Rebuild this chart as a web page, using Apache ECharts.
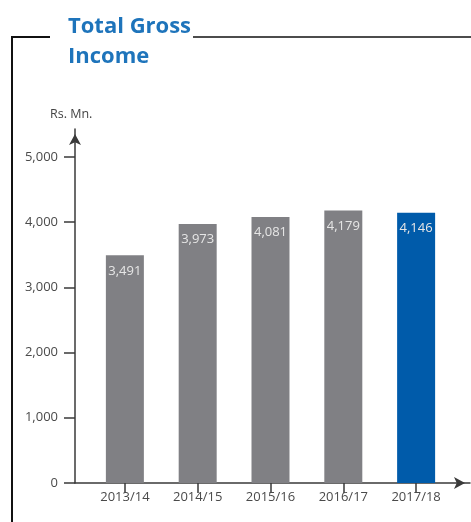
<!DOCTYPE html>
<html>
<head>
<meta charset="utf-8">
<script src="https://cdn.jsdelivr.net/npm/echarts@6/dist/echarts.min.js"></script>
<style>
  html, body { margin: 0; padding: 0; background: #fff; }
  #chart { width: 471px; height: 522px; }
</style>
</head>
<body>
<div id="chart"></div>
<script>
// Financial years and total gross income (Rs. Mn.)
const years = ['2013/14', '2014/15', '2015/16', '2016/17', '2017/18'];
const income = [3491, 3973, 4081, 4179, 4146];
const yTicks = [0, 1000, 2000, 3000, 4000, 5000];
const barColors = ['#808084', '#808084', '#808084', '#808084', '#005baa'];

const FONT = '"Open Sans", "Noto Sans", sans-serif';
const chart = echarts.init(document.getElementById('chart'), null, { renderer: 'canvas' });

const fmt = v => v.toLocaleString('en-US');
const xIdx = years.map((_, i) => i);

chart.setOption({
  animation: false,
  textStyle: { fontFamily: FONT },
  grid: { left: 75, right: 1, top: 129, bottom: 39 },
  xAxis: {
    type: 'value',
    min: -0.685,
    max: 4.74,
    splitLine: { show: false },
    axisLine: {
      show: true,
      onZero: false,
      lineStyle: { color: '#3a3a3a', width: 1.5 },
      symbol: ['none', 'arrow'],
      symbolSize: [9, 11],
      symbolOffset: [0, -5]
    },
    axisTick: {
      show: true,
      length: 10,
      customValues: xIdx,
      lineStyle: { color: '#3a3a3a', width: 1.5 }
    },
    axisLabel: {
      customValues: xIdx,
      formatter: v => years[Math.round(v)] || '',
      color: '#4a4a4a',
      fontSize: 13,
      margin: 8,
      fontFamily: FONT
    }
  },
  yAxis: {
    type: 'value',
    min: 0,
    max: 5429,
    splitLine: { show: false },
    axisLine: {
      show: true,
      onZero: false,
      lineStyle: { color: '#3a3a3a', width: 1.5 },
      symbol: ['none', 'arrow'],
      symbolSize: [9, 11],
      symbolOffset: [0, -5]
    },
    axisTick: {
      show: true,
      length: 11,
      customValues: yTicks,
      lineStyle: { color: '#3a3a3a', width: 1.5 }
    },
    axisLabel: {
      customValues: yTicks,
      formatter: v => fmt(v),
      color: '#4a4a4a',
      fontSize: 13,
      margin: 17,
      fontFamily: FONT
    }
  },
  series: [{
    type: 'bar',
    barWidth: 38,
    data: income.map((v, i) => ({
      value: [i, v],
      itemStyle: { color: barColors[i] }
    })),
    label: {
      show: true,
      position: 'insideTop',
      distance: 9,
      color: '#e6e6e6',
      fontSize: 13,
      fontFamily: FONT,
      formatter: p => fmt(p.value[1])
    }
  }],
  graphic: [
    // outline frame around the panel
    { type: 'polyline', shape: { points: [[50, 37], [12, 37], [12, 522]] },
      style: { stroke: '#111', lineWidth: 2, fill: null } },
    { type: 'line', shape: { x1: 193, y1: 37, x2: 471, y2: 37 },
      style: { stroke: '#111', lineWidth: 1.5 } },
    // heading
    { type: 'text', left: 68, top: 12,
      style: { text: 'Total Gross\nIncome', fill: '#1e74bb', font: 'bold 22px ' + FONT, lineHeight: 30 } },
    // unit caption
    { type: 'text', left: 50, top: 108,
      style: { text: 'Rs. Mn.', fill: '#444', font: '12.5px ' + FONT } }
  ]
});
</script>
</body>
</html>
